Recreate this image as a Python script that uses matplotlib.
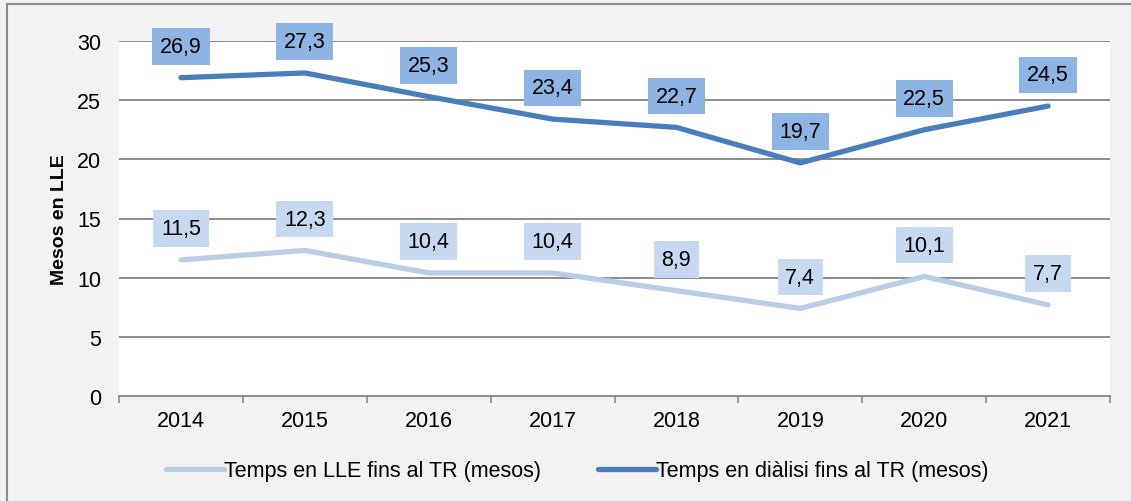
import matplotlib.pyplot as plt
from matplotlib.patches import Rectangle

years = ["2014", "2015", "2016", "2017", "2018", "2019", "2020", "2021"]
lle = [11.5, 12.3, 10.4, 10.4, 8.9, 7.4, 10.1, 7.7]
dialisi = [26.9, 27.3, 25.3, 23.4, 22.7, 19.7, 22.5, 24.5]
lle_name = "Temps en LLE fins al TR (mesos)"
dial_name = "Temps en diàlisi fins al TR (mesos)"
yticks = [0, 5, 10, 15, 20, 25, 30]

W, H = 1131, 502
FS = 15.5
FAM = "Liberation Sans"
fig = plt.figure(figsize=(W / 100, H / 100), dpi=100)
fig.patch.set_facecolor("#F2F2F2")
fig.patches.append(Rectangle((7 / W, -0.2), 1.2, 0.2 + (H - 5) / H, transform=fig.transFigure,
                             fill=False, edgecolor="#8C8C8C", linewidth=1.5))

ax = fig.add_axes([119 / W, (H - 397) / H, (1110 - 119) / W, (397 - 42) / H])
ax.set_facecolor("white")
x = list(range(len(years)))

c_light = "#B9CDE5"
c_dark = "#4A7EBB"
ax.plot(x, lle, color=c_light, linewidth=3.8, solid_capstyle="round", label=lle_name, zorder=3)
ax.plot(x, dialisi, color=c_dark, linewidth=3.8, solid_capstyle="round", label=dial_name, zorder=3)

ax.set_xlim(-0.5, len(years) - 0.5)
ax.set_ylim(0, 30)
ax.set_yticks(yticks)
ax.set_xticks([i - 0.5 for i in range(len(years) + 1)], minor=False)
ax.set_xticklabels([])
ax.set_xticks(x, minor=True)
ax.set_xticklabels(years, minor=True, fontsize=FS, family=FAM)
ax.tick_params(axis="x", which="minor", length=0, pad=10)
ax.tick_params(axis="x", which="major", length=5, color="#8C8C8C", width=1.2)
ax.tick_params(axis="y", length=0, labelsize=FS, pad=13)
for lab in ax.get_yticklabels():
    lab.set_family(FAM)
ax.grid(axis="y", color="#8C8C8C", linewidth=1.4)
ax.set_axisbelow(True)
for s in ["top", "right", "left"]:
    ax.spines[s].set_visible(False)
ax.spines["bottom"].set_color("#8C8C8C")
ax.spines["bottom"].set_linewidth(1.4)

ax.set_ylabel("Mesos en LLE", fontsize=14, fontweight="bold", family=FAM, labelpad=6)

for vals, fc in ((lle, "#C6D9F1"), (dialisi, "#8EB4E3")):
    for xi, v in zip(x, vals):
        ax.annotate(f"{v:.1f}".replace(".", ","), (xi, v), xytext=(0, 22.5), textcoords="offset points",
                    ha="center", va="center", fontsize=FS, family=FAM, zorder=5,
                    bbox=dict(boxstyle="square,pad=0.36", fc=fc, ec="none"))

leg = fig.legend(loc="center", bbox_to_anchor=(577 / W, 1 - 472 / H), ncol=2, frameon=False,
                 prop={"family": FAM, "size": FS}, handlelength=2.7,
                 handletextpad=0.0, columnspacing=2.65)

fig.savefig("out.png", dpi=100, facecolor=fig.get_facecolor())
